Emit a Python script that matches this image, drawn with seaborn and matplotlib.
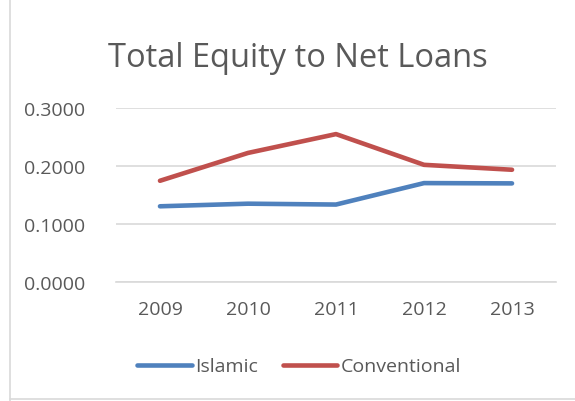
import matplotlib
matplotlib.use("Agg")
import matplotlib.pyplot as plt
import seaborn as sns
import pandas as pd
from matplotlib.ticker import FormatStrFormatter

years = ["2009", "2010", "2011", "2012", "2013"]
islamic = [0.130, 0.1345, 0.133, 0.170, 0.1695]
conventional = [0.174, 0.222, 0.2545, 0.2015, 0.193]
series_names = ["Islamic", "Conventional"]

df = pd.DataFrame({
    "Year": years * 2,
    "Value": islamic + conventional,
    "Series": [series_names[0]] * len(years) + [series_names[1]] * len(years),
})

sns.set_theme(style="white")
plt.rcParams["font.family"] = ["Open Sans", "DejaVu Sans"]

fig = plt.figure(figsize=(5.75, 4.02), dpi=100)
ax = fig.add_axes([0.2017, 0.2968, 0.7653, 0.4328])

palette = {"Islamic": "#4F81BD", "Conventional": "#C0504D"}
sns.lineplot(data=df, x="Year", y="Value", hue="Series", palette=palette,
             linewidth=3.3, ax=ax, sort=False)

ax.set_xlim(-0.5, 4.5)
ax.set_ylim(0, 0.3)
ax.set_yticks([0, 0.1, 0.2, 0.3])
ax.yaxis.set_major_formatter(FormatStrFormatter("%.4f"))
ax.grid(axis="y", color="#D9D9D9", linewidth=1.2)
ax.set_axisbelow(True)
for s in ["top", "right", "left"]:
    ax.spines[s].set_visible(False)
ax.spines["bottom"].set_color("#D9D9D9")
ax.spines["bottom"].set_linewidth(1.2)
ax.tick_params(axis="both", length=0, labelsize=14, labelcolor="#595959")
ax.tick_params(axis="x", pad=13)
ax.tick_params(axis="y", pad=22)
ax.set_xlabel("")
ax.set_ylabel("")

fig.text(0.518, 0.855, "Total Equity to Net Loans", ha="center", va="center",
         fontsize=23.5, color="#595959")

handles, labels = ax.get_legend_handles_labels()
ax.legend(handles, labels, loc="center", bbox_to_anchor=(0.52, 0.086),
          bbox_transform=fig.transFigure, ncol=2, frameon=False, fontsize=14,
          labelcolor="#595959", handlelength=2.8, handletextpad=0.15, columnspacing=1.3)

# chart border (left and bottom visible in reference)
fig.add_artist(plt.Line2D([10 / 575, 10 / 575], [0, 1], transform=fig.transFigure,
                          color="#D9D9D9", linewidth=1.2))
fig.add_artist(plt.Line2D([10 / 575, 1], [2 / 402, 2 / 402], transform=fig.transFigure,
                          color="#D9D9D9", linewidth=1.2))

fig.savefig("out.png", dpi=100)
